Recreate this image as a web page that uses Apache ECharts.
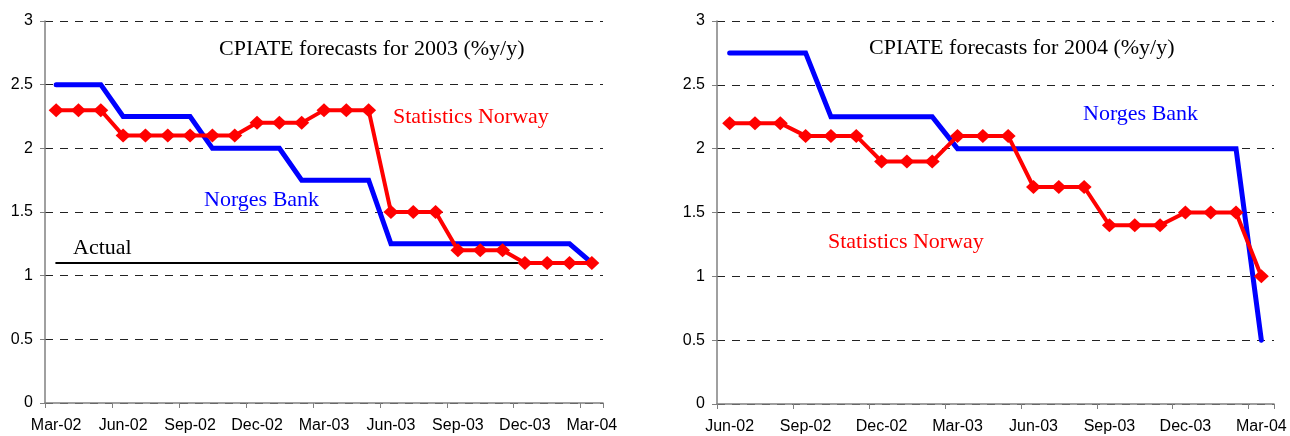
<!DOCTYPE html>
<html>
<head>
<meta charset="utf-8">
<script src="https://cdn.jsdelivr.net/npm/echarts@6/dist/echarts.min.js"></script>
<style>
html,body{margin:0;padding:0;background:#fff;}
#chart{width:1290px;height:436px;}
</style>
</head>
<body>
<div id="chart"></div>
<script>
// ---- Data ----
var leftCategories = ['Mar-02','Apr-02','May-02','Jun-02','Jul-02','Aug-02','Sep-02','Oct-02','Nov-02','Dec-02','Jan-03','Feb-03','Mar-03','Apr-03','May-03','Jun-03','Jul-03','Aug-03','Sep-03','Oct-03','Nov-03','Dec-03','Jan-04','Feb-04','Mar-04'];
var leftStatisticsNorway = [2.3,2.3,2.3,2.1,2.1,2.1,2.1,2.1,2.1,2.2,2.2,2.2,2.3,2.3,2.3,1.5,1.5,1.5,1.2,1.2,1.2,1.1,1.1,1.1,1.1];
var leftNorgesBank = [2.5,2.5,2.5,2.25,2.25,2.25,2.25,2.0,2.0,2.0,2.0,1.75,1.75,1.75,1.75,1.25,1.25,1.25,1.25,1.25,1.25,1.25,1.25,1.25,1.1];
var leftActual = [1.1,1.1,1.1,1.1,1.1,1.1,1.1,1.1,1.1,1.1,1.1,1.1,1.1,1.1,1.1,1.1,1.1,1.1,1.1,1.1,1.1,1.1,1.1,1.1,1.1];

var rightCategories = ['Jun-02','Jul-02','Aug-02','Sep-02','Oct-02','Nov-02','Dec-02','Jan-03','Feb-03','Mar-03','Apr-03','May-03','Jun-03','Jul-03','Aug-03','Sep-03','Oct-03','Nov-03','Dec-03','Jan-04','Feb-04','Mar-04'];
var rightStatisticsNorway = [2.2,2.2,2.2,2.1,2.1,2.1,1.9,1.9,1.9,2.1,2.1,2.1,1.7,1.7,1.7,1.4,1.4,1.4,1.5,1.5,1.5,1.0];
var rightNorgesBank = [2.75,2.75,2.75,2.75,2.25,2.25,2.25,2.25,2.25,2.0,2.0,2.0,2.0,2.0,2.0,2.0,2.0,2.0,2.0,2.0,2.0,0.5];

var yTicks = {min: 0, max: 3, interval: 0.5};
var leftTitle = 'CPIATE forecasts for 2003 (%y/y)';
var rightTitle = 'CPIATE forecasts for 2004 (%y/y)';

// ---- Styles ----
var SANS = '"Liberation Sans", Arial, sans-serif';
var SERIF = '"Liberation Serif", "Times New Roman", serif';
var AXIS_GRAY = '#808080';

function xAxisCfg(gridIndex, cats) {
  return {
    type: 'category', gridIndex: gridIndex, data: cats, boundaryGap: true,
    axisLine: {show: true, lineStyle: {color: AXIS_GRAY, width: 1.5}},
    axisTick: {show: true, interval: 2, length: 5, lineStyle: {color: AXIS_GRAY, width: 1}},
    axisLabel: {interval: 2, fontSize: 16, color: '#000', margin: 15, fontFamily: SANS},
    splitLine: {show: false}
  };
}
function yAxisCfg(gridIndex) {
  return {
    type: 'value', gridIndex: gridIndex, min: yTicks.min, max: yTicks.max, interval: yTicks.interval,
    axisLine: {show: true, lineStyle: {color: AXIS_GRAY, width: 1.5}},
    axisTick: {show: true, length: 5, lineStyle: {color: AXIS_GRAY, width: 1}},
    axisLabel: {fontSize: 16, color: '#000', margin: 12, fontFamily: SANS},
    splitLine: {show: true, lineStyle: {color: '#222', width: 1, type: [8, 7]}}
  };
}
function lineSeries(idx, data, color, width, marker) {
  return {
    type: 'line', xAxisIndex: idx, yAxisIndex: idx, data: data,
    symbol: marker ? 'diamond' : 'none', symbolSize: marker ? [15, 14] : 0,
    showSymbol: !!marker,
    itemStyle: {color: color},
    lineStyle: {color: color, width: width, join: 'miter', cap: 'round'},
    silent: true, animation: false
  };
}
function label(x, y, text, color) {
  return {
    type: 'text', x: x, y: y, silent: true,
    style: {text: text, fill: color, font: '22px ' + SERIF,
            align: 'left', verticalAlign: 'middle', textAlign: 'left', textVerticalAlign: 'middle'}
  };
}

var chart = echarts.init(document.getElementById('chart'), null, {renderer: 'canvas'});
chart.setOption({
  backgroundColor: '#fff',
  animation: false,
  grid: [
    {left: 45, right: 687, top: 21, bottom: 33},
    {left: 717, right: 16, top: 21, bottom: 32}
  ],
  xAxis: [xAxisCfg(0, leftCategories), xAxisCfg(1, rightCategories)],
  yAxis: [yAxisCfg(0), yAxisCfg(1)],
  series: [
    lineSeries(0, leftActual, '#000', 2, false),
    lineSeries(0, leftNorgesBank, '#0000FF', 5, false),
    lineSeries(0, leftStatisticsNorway, '#FF0000', 4, true),
    lineSeries(1, rightNorgesBank, '#0000FF', 5, false),
    lineSeries(1, rightStatisticsNorway, '#FF0000', 4, true)
  ],
  graphic: [
    label(219, 49, leftTitle, '#000'),
    label(393, 117, 'Statistics Norway', '#FF0000'),
    label(204, 200, 'Norges Bank', '#0000FF'),
    label(73, 248, 'Actual', '#000'),
    label(869, 48, rightTitle, '#000'),
    label(1083, 114, 'Norges Bank', '#0000FF'),
    label(828, 242, 'Statistics Norway', '#FF0000')
  ]
});
</script>
</body>
</html>
